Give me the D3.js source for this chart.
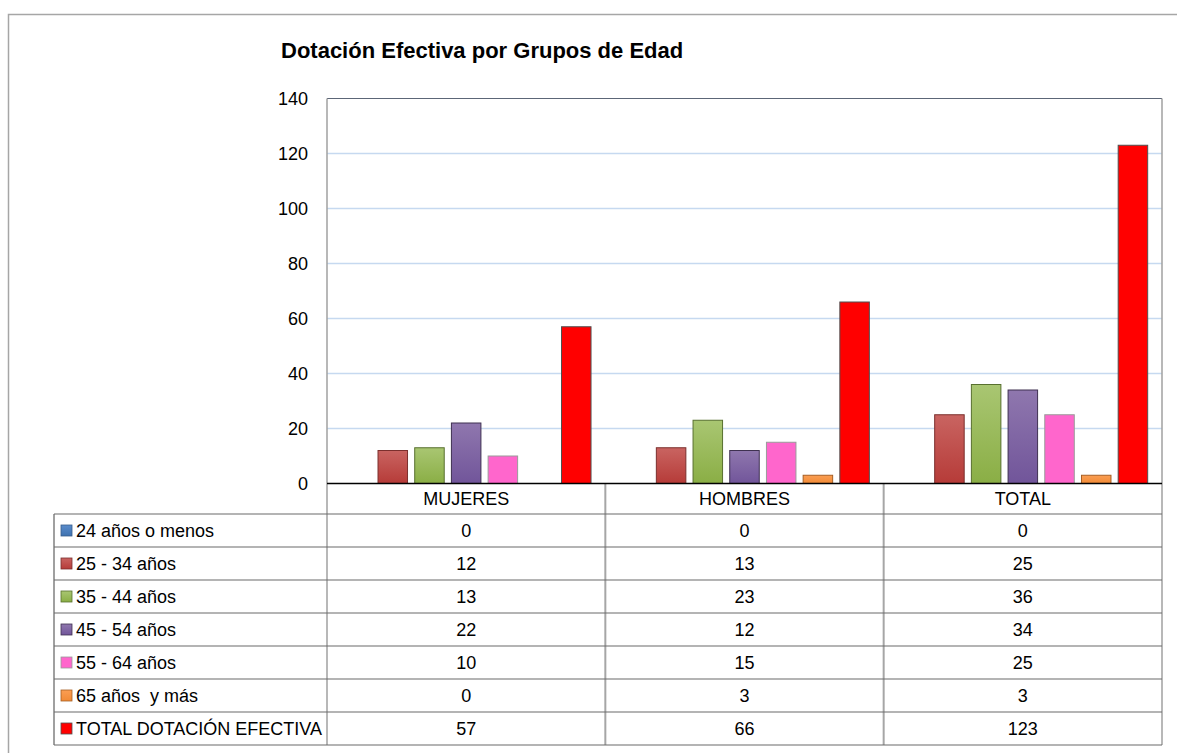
<!DOCTYPE html>
<html>
<head>
<meta charset="utf-8">
<script src="https://cdn.jsdelivr.net/npm/d3@7"></script>
<style>
  html, body { margin: 0; padding: 0; background: #fff; }
  svg { display: block; }
  text { font-family: "Liberation Sans Narrow", "Arial Narrow", "Liberation Sans", Arial, sans-serif; fill: #000; white-space: pre; }
</style>
</head>
<body>
<svg id="chart" width="1177" height="753"></svg>
<script>
// ---- Data ----
const title = "Dotación Efectiva por Grupos de Edad";
const categories = ["MUJERES", "HOMBRES", "TOTAL"];
const seriesNames = ["24 años o menos", "25 - 34 años", "35 - 44 años", "45 - 54 años", "55 - 64 años", "65 años  y más", "TOTAL DOTACIÓN EFECTIVA"];
const v24 = [0, 0, 0];
const v25 = [12, 13, 25];
const v35 = [13, 23, 36];
const v45 = [22, 12, 34];
const v55 = [10, 15, 25];
const v65 = [0, 3, 3];
const vTotal = [57, 66, 123];
const yTicks = [0, 20, 40, 60, 80, 100, 120, 140];

const seriesValues = [v24, v25, v35, v45, v55, v65, vTotal];
const colors = [
  {top: "#5a8ccb", bot: "#3f72b0", stroke: "#385d8a"},
  {top: "#c96461", bot: "#b63b38", stroke: "#7b2f2d"},
  {top: "#a9c672", bot: "#8aae45", stroke: "#58702f"},
  {top: "#8f77ae", bot: "#71559a", stroke: "#3f3151"},
  {top: "#ff66cc", bot: "#ff66cc", stroke: "#9a9a9a"},
  {top: "#fb9e53", bot: "#f18a36", stroke: "#a65f24"},
  {top: "#ff0000", bot: "#ff0000", stroke: "#505050"}
];

const FS = 18;

const svg = d3.select("#chart");
const defs = svg.append("defs");
colors.forEach((c, i) => {
  const g = defs.append("linearGradient").attr("id", "grad" + i)
    .attr("x1", 0).attr("y1", 0).attr("x2", 0).attr("y2", 1);
  g.append("stop").attr("offset", "0%").attr("stop-color", c.top);
  g.append("stop").attr("offset", "100%").attr("stop-color", c.bot);
});

// Layout
const plot = {left: 327, right: 1162, top: 98.5, bottom: 483.5};
const tableLeft = 54;
const headerBottom = 514;
const rowH = 33;
const tableBottom = headerBottom + rowH * seriesNames.length;

// Outer frame
svg.append("rect").attr("x", 8.5).attr("y", 14.5).attr("width", 1200).attr("height", 800)
  .attr("fill", "none").attr("stroke", "#a6a6a6").attr("stroke-width", 1.5);

// Scales
const x0 = d3.scaleBand().domain(categories).range([plot.left, plot.right]).padding(0);
const x1 = d3.scaleBand().domain(seriesNames).range([0, x0.bandwidth()])
  .paddingInner(0.196).paddingOuter(0.39);
const y = d3.scaleLinear().domain([0, 140]).range([plot.bottom, plot.top]);

// Gridlines
svg.append("g").selectAll("line").data(yTicks.filter(t => t > 0 && t < 140)).join("line")
  .attr("x1", plot.left).attr("x2", plot.right)
  .attr("y1", d => y(d)).attr("y2", d => y(d))
  .attr("stroke", "#c6d9f0").attr("stroke-width", 1.5);

// Plot border
svg.append("line").attr("x1", plot.left).attr("x2", plot.right).attr("y1", plot.top).attr("y2", plot.top)
  .attr("stroke", "#5c6677").attr("stroke-width", 1);

// Y axis labels
const yAxis = d3.axisLeft(y).tickValues(yTicks).tickSize(0).tickPadding(19);
const yg = svg.append("g").attr("transform", `translate(${plot.left},0)`).call(yAxis);
yg.select(".domain").remove();
yg.selectAll("text").attr("font-size", FS).attr("font-family", null).attr("dy", "0.35em");

// Bars
const groups = svg.append("g").selectAll("g").data(categories).join("g")
  .attr("transform", d => `translate(${x0(d)},0)`);
groups.selectAll("rect").data((d, ci) => seriesNames.map((s, si) => ({s, si, v: seriesValues[si][ci]})).filter(e => e.v > 0))
  .join("rect")
  .attr("x", e => x1(e.s))
  .attr("width", x1.bandwidth())
  .attr("y", e => y(e.v))
  .attr("height", e => y(0) - y(e.v))
  .attr("fill", e => `url(#grad${e.si})`)
  .attr("stroke", e => colors[e.si].stroke)
  .attr("stroke-width", 1);

// Table lines
const tl = svg.append("g");
[plot.left, plot.right].forEach(xx => {
  tl.append("line").attr("x1", xx).attr("x2", xx).attr("y1", plot.top).attr("y2", tableBottom)
    .attr("stroke", "#a0a0a0").attr("stroke-width", 1.5);
});
categories.slice(1).forEach(c => {
  tl.append("line").attr("x1", x0(c)).attr("x2", x0(c)).attr("y1", plot.bottom).attr("y2", tableBottom)
    .attr("stroke", "#a6a6a6").attr("stroke-width", 2);
});
tl.append("line").attr("x1", tableLeft).attr("x2", tableLeft).attr("y1", headerBottom).attr("y2", tableBottom)
  .attr("stroke", "#808080").attr("stroke-width", 1.5);
d3.range(seriesNames.length + 1).forEach(i => {
  const yy = headerBottom + i * rowH;
  tl.append("line").attr("x1", tableLeft).attr("x2", plot.right).attr("y1", yy).attr("y2", yy)
    .attr("stroke", "#6a6a6a").attr("stroke-width", 1.2);
});

// Zero axis line
svg.append("line").attr("x1", plot.left).attr("x2", plot.right).attr("y1", y(0)).attr("y2", y(0))
  .attr("stroke", "#000").attr("stroke-width", 1.5);

// Category headers
svg.append("g").selectAll("text").data(categories).join("text")
  .attr("x", d => x0(d) + x0.bandwidth() / 2)
  .attr("y", (plot.bottom + headerBottom) / 2 + 6.5)
  .attr("text-anchor", "middle").attr("font-size", FS)
  .text(d => d);

// Rows
seriesNames.forEach((s, si) => {
  const cy = headerBottom + si * rowH + rowH / 2;
  svg.append("rect").attr("x", 61).attr("y", cy - 5.5).attr("width", 11).attr("height", 11)
    .attr("fill", `url(#grad${si})`).attr("stroke", colors[si].stroke).attr("stroke-width", 0.8);
  svg.append("text").attr("x", 76).attr("y", cy + 6.5).attr("font-size", FS).text(s);
  categories.forEach((c, ci) => {
    svg.append("text").attr("x", x0(c) + x0.bandwidth() / 2).attr("y", cy + 6.5)
      .attr("text-anchor", "middle").attr("font-size", FS).text(seriesValues[si][ci]);
  });
});

// Title
svg.append("text").attr("x", 281).attr("y", 58).attr("font-size", 22).attr("font-weight", "bold").text(title);
</script>
</body>
</html>
